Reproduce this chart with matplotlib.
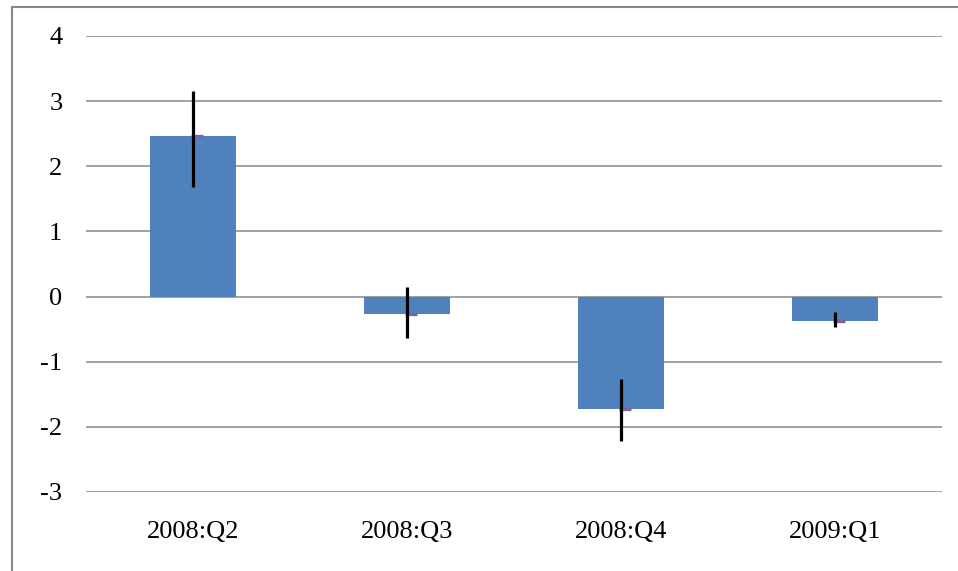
import matplotlib.pyplot as plt
import matplotlib.transforms as mtransforms
from matplotlib.lines import Line2D

quarters = ['2008:Q2', '2008:Q3', '2008:Q4', '2009:Q1']
values = [2.46, -0.27, -1.72, -0.37]
err_high = [3.15, 0.14, -1.27, -0.23]
err_low = [1.68, -0.63, -2.22, -0.47]

plt.rcParams['font.family'] = ['Liberation Serif', 'DejaVu Serif']
plt.rcParams['axes.unicode_minus'] = False

fig = plt.figure(figsize=(9.58, 5.71), dpi=100)
ax = fig.add_axes([86 / 958, 1 - 492 / 571, 856 / 958, 456 / 571])

x = list(range(len(quarters)))
ax.bar(x, values, width=0.4, color='#4F81BD', zorder=2)

# small purple marker sitting at the bar value, a bit right of centre
shifted = mtransforms.offset_copy(ax.transData, fig=fig, x=4, y=0, units='dots')
ax.plot(x, values, linestyle='none', marker='_', markersize=8,
        markeredgewidth=2.4, color='#8064A2', transform=shifted, zorder=3)

lower = [v - lo for v, lo in zip(values, err_low)]
upper = [hi - v for v, hi in zip(values, err_high)]
ax.errorbar(x, values, yerr=[lower, upper], fmt='none', ecolor='black',
            elinewidth=2.3, capsize=0, zorder=4)

ax.set_xlim(-0.5, 3.5)
ax.set_ylim(-3, 4)
ax.set_yticks(range(-3, 5))
ax.set_xticks(x)
ax.set_xticklabels(quarters)
ax.yaxis.grid(True, color='#878787', linewidth=1.1, zorder=1)
ax.set_axisbelow(True)
for s in ax.spines.values():
    s.set_visible(False)
ax.tick_params(axis='both', length=0, labelsize=19, colors='black')
ax.tick_params(axis='y', pad=17)
ax.tick_params(axis='x', pad=21)

# outer chart border (only top and left visible in the crop)
fig.add_artist(Line2D([12 / 958, 12 / 958], [0, 1 - 7 / 571], color='#878787',
                      linewidth=1.5, transform=fig.transFigure))
fig.add_artist(Line2D([12 / 958, 1], [1 - 7 / 571, 1 - 7 / 571], color='#878787',
                      linewidth=1.5, transform=fig.transFigure))

fig.savefig('out.png', dpi=100)
